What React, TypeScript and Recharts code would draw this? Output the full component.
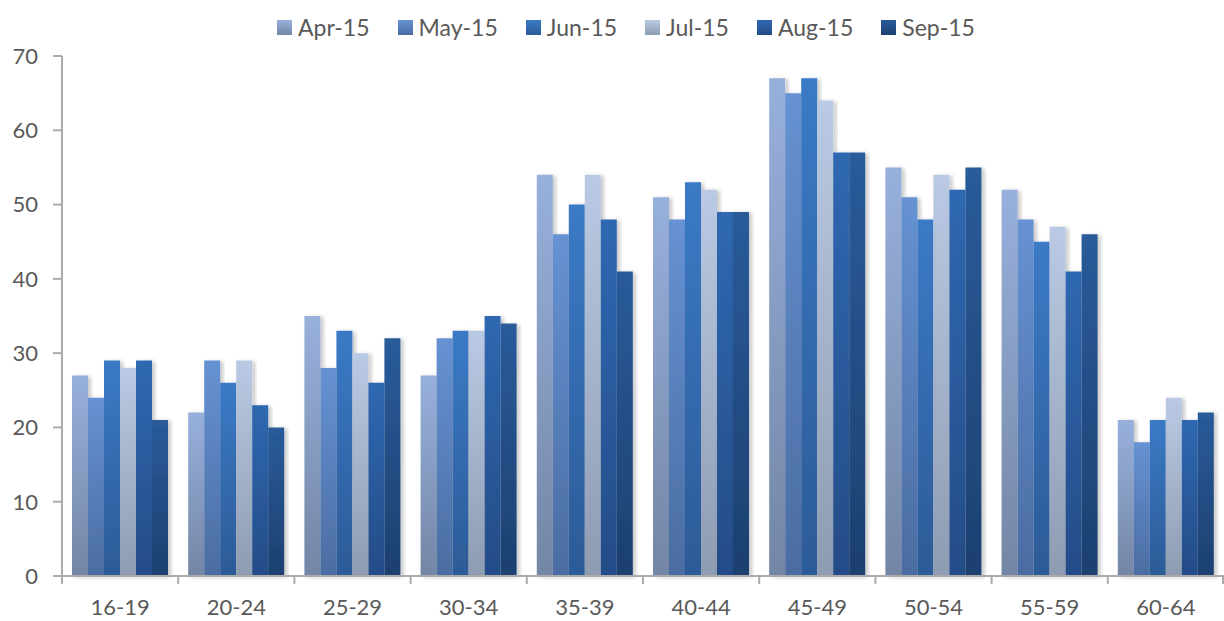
import { BarChart, Bar, XAxis, YAxis } from "recharts";

const ageGroups = ["16-19", "20-24", "25-29", "30-34", "35-39", "40-44", "45-49", "50-54", "55-59", "60-64"];

const apr15 = [27, 22, 35, 27, 54, 51, 67, 55, 52, 21];
const may15 = [24, 29, 28, 32, 46, 48, 65, 51, 48, 18];
const jun15 = [29, 26, 33, 33, 50, 53, 67, 48, 45, 21];
const jul15 = [28, 29, 30, 33, 54, 52, 64, 54, 47, 24];
const aug15 = [29, 23, 26, 35, 48, 49, 57, 52, 41, 21];
const sep15 = [21, 20, 32, 34, 41, 49, 57, 55, 46, 22];

const yTicks = [0, 10, 20, 30, 40, 50, 60, 70];

const series = [
  { key: "Apr-15", values: apr15, top: "#97B0DC", bottom: "#7386A5" },
  { key: "May-15", values: may15, top: "#6692D3", bottom: "#4B6CA2" },
  { key: "Jun-15", values: jun15, top: "#3B7AC6", bottom: "#2C5B97" },
  { key: "Jul-15", values: jul15, top: "#BACAE4", bottom: "#8E9CB2" },
  { key: "Aug-15", values: aug15, top: "#2F68B2", bottom: "#244C87" },
  { key: "Sep-15", values: sep15, top: "#295B9A", bottom: "#1D4070" },
];

const data = ageGroups.map((g, i) => {
  const row: Record<string, string | number> = { group: g };
  series.forEach((s) => {
    row[s.key] = s.values[i];
  });
  return row;
});

const font = "Lato, 'Open Sans', sans-serif";
const axisColor = "#ABABAB";
const textColor = "#595959";

const CategoryTick = (props: any) => {
  const { x, y, payload, index } = props;
  const off = payload && payload.offset ? payload.offset : 58;
  const last = index === ageGroups.length - 1;
  return (
    <g>
      <line x1={x - off} x2={x - off} y1={y} y2={y + 8} stroke={axisColor} strokeWidth={2} />
      {last && <line x1={x + off - 1} x2={x + off - 1} y1={y} y2={y + 8} stroke={axisColor} strokeWidth={2} />}
      <text x={x} y={y + 39} textAnchor="middle" fill={textColor} fontSize={22} fontFamily={font}>
        {payload.value}
      </text>
    </g>
  );
};

// legend drawn as html so it does not push the plot down
const LegendBox = () => (
  <div
    style={{
      position: "absolute",
      top: 11,
      left: 277,
      display: "flex",
      gap: 28,
      fontFamily: font,
      fontSize: 23,
      color: textColor,
      lineHeight: "32px",
      whiteSpace: "nowrap",
    }}
  >
    {series.map((s) => (
      <div key={s.key} style={{ display: "flex", alignItems: "center", gap: 6 }}>
        <div style={{ width: 15, height: 15, background: `linear-gradient(${s.top}, ${s.bottom})` }} />
        <span>{s.key}</span>
      </div>
    ))}
  </div>
);

export default function App() {
  return (
    <div style={{ position: "absolute", left: 0, top: 0, width: 1224, height: 621, background: "#fff" }}>
      <BarChart
        width={1224}
        height={621}
        data={data}
        margin={{ top: 56, right: 0, left: 0, bottom: 0 }}
        barCategoryGap={10}
        barGap={0}
      >
        <defs>
          {series.map((s, i) => (
            <linearGradient key={s.key} id={`grad${i}`} x1="0" y1="0" x2="0" y2="1">
              <stop offset="0%" stopColor={s.top} />
              <stop offset="100%" stopColor={s.bottom} />
            </linearGradient>
          ))}
          <filter id="shadow" x="-20%" y="-5%" width="150%" height="110%">
            <feDropShadow dx="3" dy="1" stdDeviation="2" floodColor="#000" floodOpacity="0.22" />
          </filter>
        </defs>
        <XAxis
          dataKey="group"
          height={45}
          tickSize={0}
          tickMargin={0}
          tick={<CategoryTick />}
          axisLine={{ stroke: axisColor, strokeWidth: 2 }}
          interval={0}
        />
        <YAxis
          width={62}
          domain={[0, 70]}
          ticks={yTicks}
          tickSize={9}
          tickMargin={15}
          axisLine={{ stroke: axisColor, strokeWidth: 2 }}
          tickLine={{ stroke: axisColor, strokeWidth: 2 }}
          tick={{ fill: textColor, fontSize: 22, fontFamily: font }}
        />
        {series.map((s, i) => (
          <Bar
            key={s.key}
            dataKey={s.key}
            fill={`url(#grad${i})`}
            filter="url(#shadow)"
            isAnimationActive={false}
          />
        ))}
      </BarChart>
      <LegendBox />
    </div>
  );
}
